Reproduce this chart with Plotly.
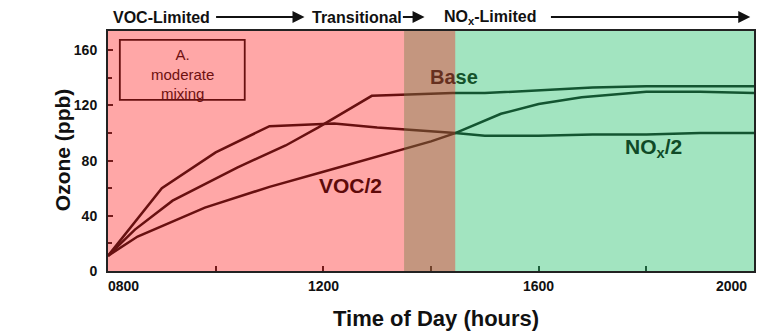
import plotly.graph_objects as go

# ---- data (time in hours, ozone in ppb) ----
base_t = [8.0, 8.5, 9.2, 10.4, 11.3, 11.9, 12.9, 14.4, 15.0, 16.0, 17.0, 18.0, 19.0, 20.0]
base_o = [11, 30, 51, 75, 91, 104, 127, 129, 129, 131, 133, 134, 134, 134]

voc_t = [8.0, 8.55, 9.8, 11.0, 12.0, 13.0, 14.0, 14.45, 15.3, 16.0, 16.8, 18.0, 19.0, 20.0]
voc_o = [11, 25, 46, 61, 72, 83, 94, 100, 114, 121, 126, 130, 130, 129]

nox_t = [8.0, 9.0, 10.0, 11.0, 12.2, 13.0, 14.45, 15.0, 16.0, 17.0, 18.0, 19.0, 20.0]
nox_o = [11, 60, 86, 105, 107, 104, 100, 98, 98, 99, 99, 100, 100]

xtick_vals = [8, 12, 16, 20]
xtick_text = ["0800", "1200", "1600", "2000"]
xtick_shift = [0.28, 0.0, 0.0, -0.41]
ytick_vals = [0, 40, 80, 120, 160]

voc_limited = (8.0, 14.45)
nox_limited = (13.5, 20.0)

FONT = "Liberation Sans, Arial, sans-serif"

fig = go.Figure()
for t, o in [(base_t, base_o), (voc_t, voc_o), (nox_t, nox_o)]:
    fig.add_trace(go.Scatter(x=t, y=o, mode="lines",
                             line=dict(color="#111111", width=2.5),
                             showlegend=False, hoverinfo="skip"))

# panel label box (drawn black, tinted by the overlay)
fig.add_shape(type="rect", xref="x", yref="y", x0=8.22, x1=10.54, y0=124, y1=167.5,
              line=dict(color="#111", width=1.8), fillcolor="rgba(0,0,0,0)", layer="above")
# coloured regime overlays (tint the black lines like the original)
fig.add_shape(type="rect", xref="x", yref="paper", x0=nox_limited[0], x1=nox_limited[1],
              y0=0, y1=1, fillcolor="rgb(22,187,97)", opacity=0.4, line_width=0, layer="above")
fig.add_shape(type="rect", xref="x", yref="paper", x0=voc_limited[0], x1=voc_limited[1],
              y0=0, y1=1, fillcolor="rgb(255,17,17)", opacity=0.37, line_width=0, layer="above")

ann = []
# x tick labels
for v, txt, s in zip(xtick_vals, xtick_text, xtick_shift):
    ann.append(dict(x=v + s, y=0, xref="x", yref="paper", yanchor="middle", yshift=-15,
                    text="<b>" + txt + "</b>", showarrow=False,
                    font=dict(size=14, color="#111", family=FONT)))

# curve labels
ann.append(dict(x=14.42, y=141, xref="x", yref="y", showarrow=False,
                text="<b><span style='color:#66301f'>Ba</span><span style='color:#14532b'>se</span></b>",
                font=dict(size=20, family=FONT)))
ann.append(dict(x=12.5, y=62, xref="x", yref="y", showarrow=False, text="<b>VOC/2</b>",
                font=dict(size=21, color="#5e0a0a", family=FONT)))
ann.append(dict(x=18.13, y=89, xref="x", yref="y", showarrow=False, text="<b>NO<sub>x</sub>/2</b>",
                font=dict(size=21, color="#0f4a27", family=FONT)))

# panel label text
ann.append(dict(x=9.38, y=143, xref="x", yref="y", showarrow=False,
                text="A.<br>moderate<br>mixing",
                font=dict(size=15, color="#6e1010", family=FONT)))

# header: regimes with arrows
hy = 1.058
for x, txt in [(9.0, "VOC-Limited"), (12.62, "Transitional"), (15.1, "NO<sub>x</sub>-Limited")]:
    ann.append(dict(x=x, y=hy, xref="x", yref="paper", yanchor="middle", text="<b>" + txt + "</b>",
                    showarrow=False, font=dict(size=16, color="#111", family=FONT)))
for x0, x1 in [(9.98, 11.65), (13.45, 13.88), (16.2, 19.93)]:
    ann.append(dict(x=x1, y=hy, xref="x", yref="paper", ax=x0, ay=0, axref="x", ayref="pixel",
                    text="", showarrow=True, arrowhead=2, arrowsize=1.2, arrowwidth=2,
                    arrowcolor="#111"))

# axis titles
ann.append(dict(x=-0.071, y=0.504, xref="paper", yref="paper", text="<b>Ozone (ppb)</b>",
                textangle=-90, showarrow=False, xanchor="center", yanchor="middle",
                font=dict(size=21, color="#111", family=FONT)))
ann.append(dict(x=0.508, y=-0.196, xref="paper", yref="paper", text="<b>Time of Day (hours)</b>",
                showarrow=False, xanchor="center", yanchor="middle",
                font=dict(size=22, color="#111", family=FONT)))

fig.update_layout(
    width=767, height=334,
    margin=dict(l=108, r=11, t=31, b=63),
    plot_bgcolor="white", paper_bgcolor="white",
    annotations=ann,
    xaxis=dict(range=[8, 20], showline=True, linecolor="#222", linewidth=2, mirror=True,
               ticks="inside", tickvals=[8, 10, 12, 14, 16, 18, 20], ticklen=5, tickwidth=1.5,
               tickcolor="#222", showticklabels=False, showgrid=False, zeroline=False),
    yaxis=dict(range=[0, 174], showline=True, linecolor="#222", linewidth=2, mirror=True,
               ticks="inside", tickvals=ytick_vals, ticktext=["<b>%d</b>" % v for v in ytick_vals],
               ticklen=5, tickwidth=1.5, tickcolor="#222", ticklabelstandoff=6,
               minor=dict(ticks="inside", tickvals=[20, 60, 100, 140], ticklen=4, tickcolor="#222"),
               tickfont=dict(size=14, color="#111", family=FONT),
               showgrid=False, zeroline=False),
)

fig.write_html("out.html")
